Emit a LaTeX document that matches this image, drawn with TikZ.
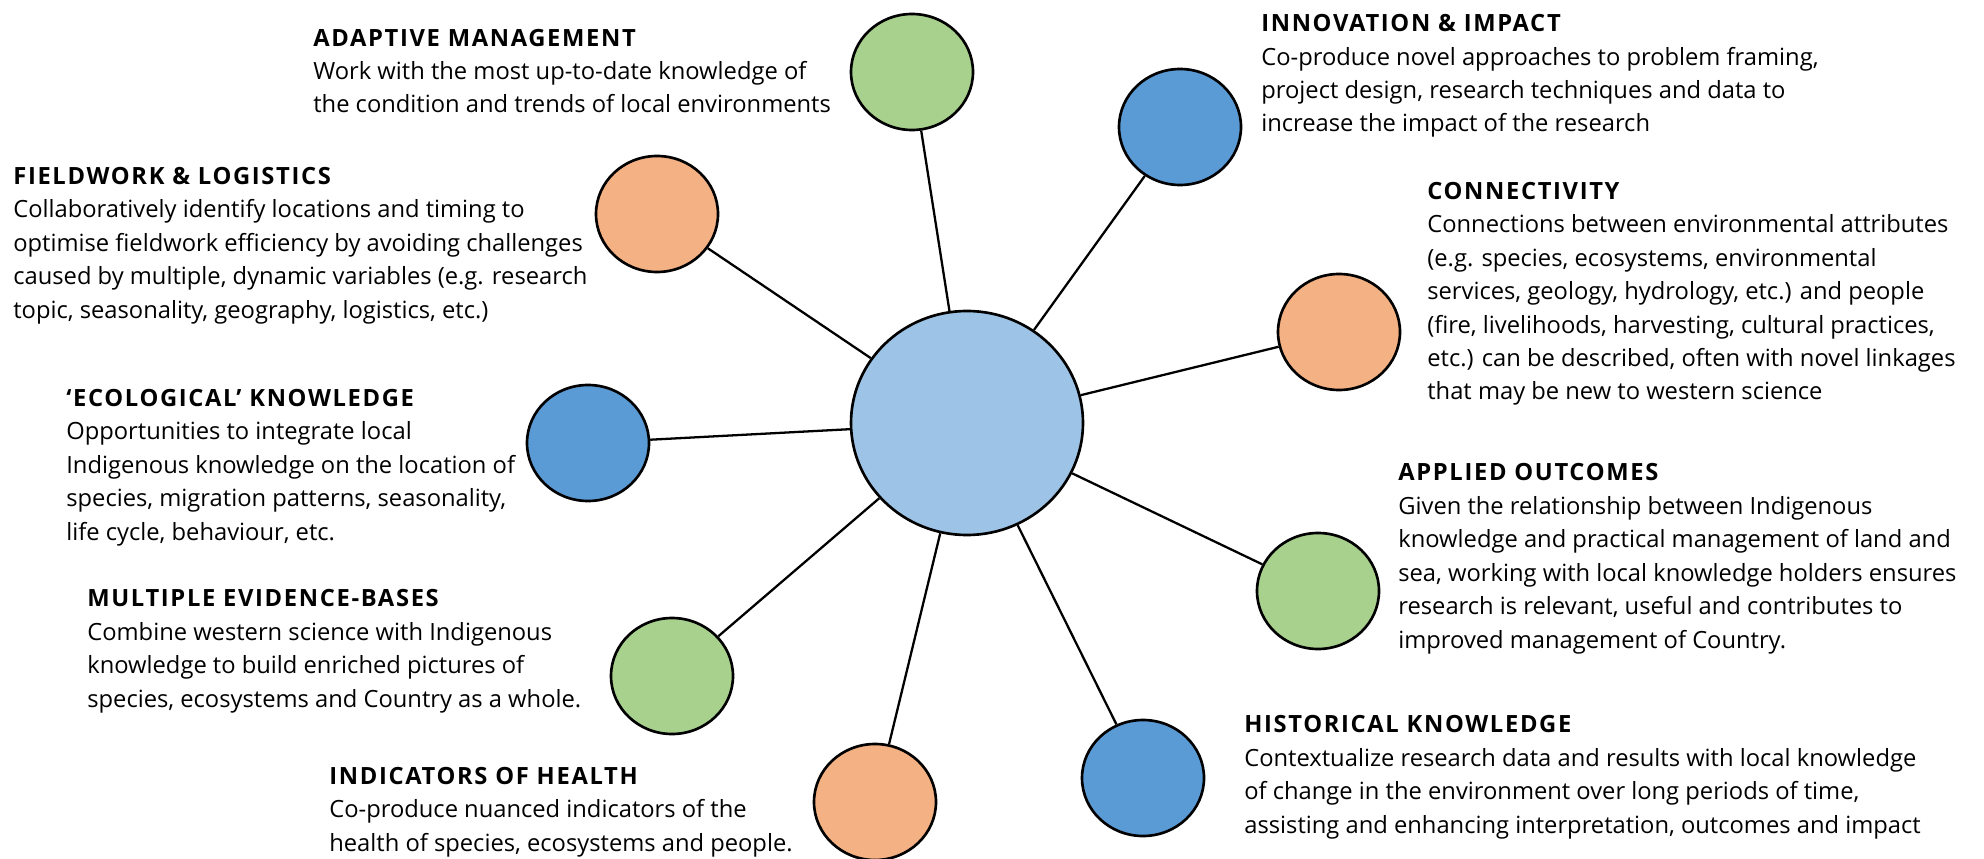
\documentclass[tikz,border=0pt]{standalone}
\usepackage{fontspec}
\setmainfont{Open Sans}
\usetikzlibrary{shapes.geometric}
\definecolor{hubblue}{HTML}{9DC3E6}
\definecolor{darkblue}{HTML}{5B9BD5}
\definecolor{leafgreen}{HTML}{A9D18E}
\definecolor{peach}{HTML}{F4B183}
\def\heading#1{{\bfseries\addfontfeatures{LetterSpace=7}#1}}
\tikzset{
  spot/.style={ellipse, draw=black, line width=1.5pt, minimum width=2.44cm, minimum height=2.32cm, inner sep=0pt},
  hubspot/.style={spot, fill=hubblue, minimum width=4.64cm, minimum height=4.48cm},
  spoke/.style={line width=1.3pt},
  blurb/.style={anchor=base west, align=left, inner sep=0pt, font=\fontsize{13.5}{19.06}\selectfont},
}

\begin{document}
\begin{tikzpicture}
			%%%%% START %%%%%
			\useasboundingbox (0, 0) rectangle (39.68, -17.18);
			
			\node[hubspot] (hub) at (19.34, -8.46) {};
			
			\node[spot, fill=leafgreen] (adaptive) at (18.24, -1.44) {};
			\node[spot, fill=peach] (fieldwork) at (13.14, -4.28) {};
			\node[spot, fill=darkblue] (ecological) at (11.76, -8.86) {};
			\node[spot, fill=leafgreen] (evidence) at (13.44, -13.52) {};
			\node[spot, fill=peach] (health) at (17.50, -16.04) {};
			\node[spot, fill=darkblue] (innovation) at (23.60, -2.54) {};
			\node[spot, fill=peach] (connectivity) at (26.78, -6.64) {};
			\node[spot, fill=leafgreen] (applied) at (26.36, -11.82) {};
			\node[spot, fill=darkblue] (historical) at (22.86, -15.56) {};
			
			\foreach \s in {adaptive, fieldwork, ecological, evidence, health, innovation, connectivity, applied, historical}
				\draw[spoke] (hub) -- (\s);
			
			% texts sit on the baseline of their last line
			\node[blurb] (adaptivetext) at (6.26, -2.26) {\heading{ADAPTIVE MANAGEMENT}\\
				Work with the most up-to-date knowledge of\\
				the condition and trends of local environments};
			
			\node[blurb] (fieldworktext) at (0.26, -6.36) {\heading{FIELDWORK \& LOGISTICS}\\
				Collaboratively identify locations and timing to\\
				optimise fieldwork efficiency by avoiding challenges\\
				caused by multiple, dynamic variables (e.g. research\\
				topic, seasonality, geography, logistics, etc.)};
			
			\node[blurb] (ecologicaltext) at (1.32, -10.80) {\heading{`ECOLOGICAL' KNOWLEDGE}\\
				Opportunities to integrate local\\
				Indigenous knowledge on the location of\\
				species, migration patterns, seasonality,\\
				life cycle, behaviour, etc.};
			
			\node[blurb] (evidencetext) at (1.74, -14.14) {\heading{MULTIPLE EVIDENCE-BASES}\\
				Combine western science with Indigenous\\
				knowledge to build enriched pictures of\\
				species, ecosystems and Country as a whole.};
			
			\node[blurb] (healthtext) at (6.58, -17.02) {\heading{INDICATORS OF HEALTH}\\
				Co-produce nuanced indicators of the\\
				health of species, ecosystems and people.};
			
			\node[blurb] (innovationtext) at (25.22, -2.64) {\heading{INNOVATION \& IMPACT}\\
				Co-produce novel approaches to problem framing,\\
				project design, research techniques and data to\\
				increase the impact of the research};
			
			\node[blurb] (connectivitytext) at (28.54, -8.00) {\heading{CONNECTIVITY}\\
				Connections between environmental attributes\\
				(e.g. species, ecosystems, environmental\\
				services, geology, hydrology, etc.) and people\\
				(fire, livelihoods, harvesting, cultural practices,\\
				etc.) can be described, often with novel linkages\\
				that may be new to western science};
			
			\node[blurb] (appliedtext) at (27.96, -12.96) {\heading{APPLIED OUTCOMES}\\
				Given the relationship between Indigenous\\
				knowledge and practical management of land and\\
				sea, working with local knowledge holders ensures\\
				research is relevant, useful and contributes to\\
				improved management of Country.};
			
			\node[blurb] (historicaltext) at (24.88, -16.66) {\heading{HISTORICAL KNOWLEDGE}\\
				Contextualize research data and results with local knowledge\\
				of change in the environment over long periods of time,\\
				assisting and enhancing interpretation, outcomes and impact};
			
			%%%%% END %%%%%
\end{tikzpicture}
\end{document}
